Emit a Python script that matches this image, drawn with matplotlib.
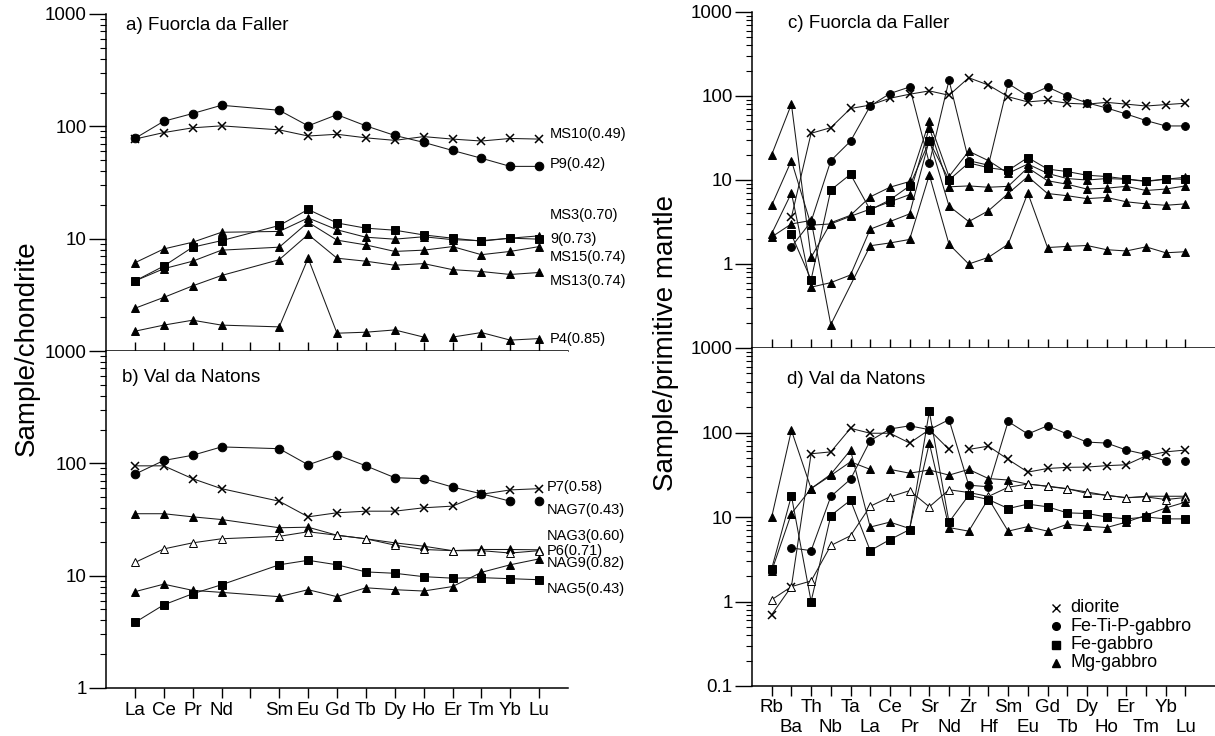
import numpy as np
import matplotlib
matplotlib.use('Agg')
import matplotlib.pyplot as plt
from matplotlib.ticker import FixedLocator, FixedFormatter, LogLocator, NullFormatter

plt.rcParams['font.family'] = ['Liberation Sans', 'DejaVu Sans']

nan = np.nan

# chondrite-normalised REE (Pm has a tick but no data)
ree_axis = ['La', 'Ce', 'Pr', 'Nd', '', 'Sm', 'Eu', 'Gd', 'Tb', 'Dy', 'Ho', 'Er', 'Tm', 'Yb', 'Lu']
ree = ['La', 'Ce', 'Pr', 'Nd', 'Sm', 'Eu', 'Gd', 'Tb', 'Dy', 'Ho', 'Er', 'Tm', 'Yb', 'Lu']

# primitive-mantle normalised spider elements
spider = ['Rb', 'Ba', 'Th', 'Nb', 'Ta', 'La', 'Ce', 'Pr', 'Sr', 'Nd', 'Zr', 'Hf',
          'Sm', 'Eu', 'Gd', 'Tb', 'Dy', 'Ho', 'Er', 'Tm', 'Yb', 'Lu']

# a) Fuorcla da Faller, REE / chondrite
a_MS10 = [77, 88, 97, 101, 93, 82, 85, 79, 75, 81, 77, 74, 78, 77]
a_P9 = [78, 111, 130, 154, 139, 101, 127, 101, 83, 72, 61, 52, 44, 44]
a_MS3 = [4.2, 5.7, 8.4, 9.6, 13.1, 18.2, 13.8, 12.4, 11.9, 10.8, 10.1, 9.5, 10.1, 9.9]
a_9 = [6.1, 8.1, 9.3, 11.4, 11.6, 15.3, 12.0, 10.3, 9.9, 10.4, 9.8, 9.6, 10.1, 10.6]
a_MS15 = [4.2, 5.4, 6.3, 7.9, 8.4, 14.0, 9.7, 8.8, 7.7, 7.9, 8.5, 7.2, 7.7, 8.5]
a_MS13 = [2.4, 3.0, 3.8, 4.7, 6.5, 10.9, 6.7, 6.3, 5.8, 6.0, 5.3, 5.1, 4.8, 5.0]
a_P4 = [1.5, 1.7, 1.88, 1.7, 1.64, 6.7, 1.44, 1.47, 1.54, 1.33, 1.33, 1.46, 1.25, 1.29]

# b) Val da Natons, REE / chondrite
b_P7 = [95, 95, 73, 59.5, 46, 33.4, 36.3, 37.5, 37.5, 40.2, 41.6, 53, 58, 59.5]
b_NAG7 = [80, 106, 118, 140, 135, 97, 119, 95, 74.5, 73, 61.5, 53.6, 46, 46]
b_NAG3 = [35.6, 35.6, 33.4, 31.6, 26.7, 27, 22.9, 21.3, 19.6, 18.3, 16.7, 17.1, 17.1, 17]
b_P6 = [13.1, 17.3, 19.6, 21.3, 22.4, 24.6, 22.9, 21.3, 18.7, 17.1, 16.7, 16.7, 15.9, 16.7]
b_NAG9 = [7.2, 8.4, 7.4, 7.1, 6.5, 7.5, 6.5, 7.8, 7.5, 7.3, 8.0, 10.7, 12.5, 14.1]
b_NAG5 = [3.83, 5.5, 6.9, 8.3, 12.5, 13.7, 12.5, 10.8, 10.5, 9.8, 9.5, 9.6, 9.4, 9.2]

# c) Fuorcla da Faller, trace elements / primitive mantle
c_MS10 = [nan, 3.6, 36, 42, 71, 78, 94, 105, 115, 102, 165, 135, 98, 85, 89, 82, 80, 84, 80, 76, 79, 82]
c_P9 = [nan, 1.6, 3.2, 17, 29, 76, 107, 128, 15.8, 154, 17, 15, 141, 100, 128, 100, 83, 72, 61, 51, 44, 44]
c_MS3 = [nan, 2.25, 0.65, 7.6, 11.7, 4.4, 5.8, 8.5, 29, 10, 16, 14, 13, 18.5, 13.5, 12.6, 11.4, 11, 10.3, 9.7, 10.3, 10.2]
c_9 = [20, 80, 1.2, 3.1, 3.8, 6.3, 8.2, 9.6, 50, 11, 22, 17, 12, 15.5, 12, 10.4, 10, 10.4, 10.2, 9.6, 10.2, 10.8]
c_MS15 = [5, 17, 2.9, 3.0, 3.7, 4.5, 5.5, 6.7, 42, 8.3, 8.5, 8.2, 8.4, 14, 9.8, 8.9, 7.8, 8.0, 8.4, 7.5, 7.8, 8.5]
c_MS13 = [2.3, 7, 0.53, 0.6, 0.74, 2.6, 3.2, 3.95, 30, 4.9, 3.2, 4.3, 6.9, 11, 6.9, 6.5, 6.0, 6.2, 5.5, 5.2, 5.0, 5.2]
c_P4 = [2.1, 3.0, 3.3, 0.19, nan, 1.65, 1.78, 1.96, 11.5, 1.72, 1.0, 1.2, 1.72, 7.0, 1.57, 1.62, 1.66, 1.48, 1.43, 1.6, 1.36, 1.4]

# d) Val da Natons, trace elements / primitive mantle
d_P7 = [0.7, 1.5, 56, 59, 112, 98, 98, 75, 108, 63, 63, 69, 48, 34, 37.5, 38.7, 39, 40.5, 41.5, 53, 59, 62]
d_NAG7 = [nan, 4.3, 4.0, 17.5, 28, 80, 110, 120, 108, 142, 23.8, 22.8, 135, 96, 120, 96, 77, 75, 62, 55, 46, 46]
d_NAG3 = [10, 106, 21.7, 31, 45, 36.6, 36.6, 33, 36, 31.3, 36.6, 28.5, 27.4, 24.5, 23.2, 21.7, 19, 18.1, 16.8, 17.6, 17.6, 17.6]
d_P6 = [1.05, 1.5, 1.75, 4.6, 6.0, 13.4, 17.3, 20.5, 13.2, 21, 19.5, 17.5, 22.5, 24.6, 23, 21.5, 19.8, 18, 17, 17.3, 16.1, 17]
d_NAG9 = [2.3, 11, 21.7, 32, 62, 7.6, 8.7, 7.3, 75, 7.5, 6.8, 16.5, 6.8, 7.7, 6.8, 8.2, 7.8, 7.5, 8.7, 10.5, 12.8, 15]
d_NAG5 = [2.45, 17.8, 1.0, 10.4, 15.8, 4.0, 5.4, 7.1, 178, 8.7, 18.1, 16.1, 12.6, 14.2, 13.2, 11.2, 11, 10, 9.5, 10, 9.5, 9.5]

rock_types = ['diorite', 'Fe-Ti-P-gabbro', 'Fe-gabbro', 'Mg-gabbro']
markers = {'diorite': 'x', 'Fe-Ti-P-gabbro': 'o', 'Fe-gabbro': 's', 'Mg-gabbro': '^', 'open': '^'}

W, H = 1215, 736
TICK_FS = 13.5
fig = plt.figure(figsize=(W / 100, H / 100), dpi=100)


def px_axes(x0, x1, y0, y1):
    return fig.add_axes([x0 / W, 1 - y1 / H, (x1 - x0) / W, (y1 - y0) / H])


def draw(ax, x, vals, kind, ms, breaks=()):
    x = np.asarray(x, float)
    v = np.asarray(vals, float)
    idx = np.flatnonzero(~np.isnan(v))
    runs, run = [], [idx[0]]
    for i in idx[1:]:
        if run[-1] in breaks:
            runs.append(run)
            run = [i]
        else:
            run.append(i)
    runs.append(run)
    for r in runs:
        ax.plot(x[r], v[r], color='0.1', lw=0.75, zorder=2)
    if kind == 'diorite':
        ax.plot(x[idx], v[idx], ls='none', marker='x', ms=ms, mew=1.1, color='k', zorder=3)
    else:
        face = 'white' if kind == 'open' else 'k'
        size = ms * 0.95 if markers[kind] == '^' else ms
        ax.plot(x[idx], v[idx], ls='none', marker=markers[kind], ms=size,
                mfc=face, mec='k', mew=0.7, zorder=3)


def style_log(ax, labels):
    ax.set_yscale('log')
    for s in ('top', 'right'):
        ax.spines[s].set_visible(False)
    for s in ('left', 'bottom'):
        ax.spines[s].set_linewidth(1.1)
    ax.yaxis.set_major_locator(FixedLocator([float(t) for t in labels]))
    ax.yaxis.set_major_formatter(FixedFormatter(labels))
    ax.yaxis.set_minor_locator(LogLocator(base=10, subs=np.arange(2, 10)))
    ax.yaxis.set_minor_formatter(NullFormatter())
    ax.tick_params(axis='y', which='major', direction='out', length=12, width=1.0,
                   labelsize=TICK_FS, pad=2)
    ax.tick_params(axis='y', which='minor', direction='out', length=4, width=0.8)


# ---- left column: REE / chondrite ----
ree_x = [ree_axis.index(e) for e in ree]
ax_a = px_axes(106, 568, 14, 351)
ax_b = px_axes(106, 568, 351, 688)

for ax in (ax_a, ax_b):
    ax.set_xlim(-1, 15)
    ax.set_ylim(1, 1000)
    ax.set_xticks(range(len(ree_axis)))

style_log(ax_a, ['10', '100', '1000'])
style_log(ax_b, ['1', '10', '100', '1000'])
ax_a.set_xticklabels([])
ax_a.tick_params(axis='x', direction='inout', length=13, width=1.0)
ax_b.set_xticklabels(ree_axis, fontsize=TICK_FS)
ax_b.tick_params(axis='x', direction='out', length=7, width=1.0, pad=3)

series_a = [(a_MS10, 'diorite', ()), (a_P9, 'Fe-Ti-P-gabbro', ()), (a_MS3, 'Fe-gabbro', ()),
            (a_9, 'Mg-gabbro', ()), (a_MS15, 'Mg-gabbro', ()), (a_MS13, 'Mg-gabbro', ()),
            (a_P4, 'Mg-gabbro', (9,))]
for vals, kind, br in series_a:
    draw(ax_a, ree_x, vals, kind, 6.2, br)

series_b = [(b_P7, 'diorite', ()), (b_NAG7, 'Fe-Ti-P-gabbro', (12,)), (b_NAG3, 'Mg-gabbro', ()),
            (b_P6, 'open', ()), (b_NAG9, 'Mg-gabbro', ()), (b_NAG5, 'Fe-gabbro', ())]
for vals, kind, br in series_b:
    draw(ax_b, ree_x, vals, kind, 6.2, br)

# sample names with Mg# beside the Lu end of each pattern
names_a = ['MS10(0.49)', 'P9(0.42)', 'MS3(0.70)', '9(0.73)', 'MS15(0.74)', 'MS13(0.74)', 'P4(0.85)']
ypos_a = [86, 46.4, 16.1, 9.9, 6.8, 4.2, 1.27]
for n, y in zip(names_a, ypos_a):
    ax_a.text(14.38, y, n, fontsize=10.5, va='center', ha='left', clip_on=False)

names_b = ['P7(0.58)', 'NAG7(0.43)', 'NAG3(0.60)', 'P6(0.71)', 'NAG9(0.82)', 'NAG5(0.43)']
ypos_b = [62, 38.8, 22.4, 16.5, 13, 7.6]
for n, y in zip(names_b, ypos_b):
    ax_b.text(14.26, y, n, fontsize=10.5, va='center', ha='left', clip_on=False)

# ---- right column: spider diagrams / primitive mantle ----
sp_x = list(range(len(spider)))
ax_c = px_axes(752, 1215, 12, 348)
ax_d = px_axes(752, 1215, 348, 686)

for ax in (ax_c, ax_d):
    ax.set_xlim(-1, 22.5)
    ax.set_ylim(0.1, 1000)
    # element names alternate between two rows: even ones on major ticks, odd ones on minor
    ax.xaxis.set_major_locator(FixedLocator(sp_x[0::2]))
    ax.xaxis.set_minor_locator(FixedLocator(sp_x[1::2]))

style_log(ax_c, ['1', '10', '100', '1000'])
style_log(ax_d, ['0.1', '1', '10', '100', '1000'])
ax_c.xaxis.set_major_formatter(NullFormatter())
ax_c.xaxis.set_minor_formatter(NullFormatter())
ax_c.tick_params(axis='x', which='both', direction='inout', length=13, width=1.0)
ax_d.xaxis.set_major_formatter(FixedFormatter(spider[0::2]))
ax_d.xaxis.set_minor_formatter(FixedFormatter(spider[1::2]))
ax_d.tick_params(axis='x', which='both', direction='out', length=7, width=1.0,
                 labelsize=TICK_FS)
ax_d.tick_params(axis='x', which='major', pad=2)
ax_d.tick_params(axis='x', which='minor', pad=16.5)

series_c = [(c_MS10, 'diorite', ()), (c_P9, 'Fe-Ti-P-gabbro', ()), (c_MS3, 'Fe-gabbro', ()),
            (c_9, 'Mg-gabbro', ()), (c_MS15, 'Mg-gabbro', ()), (c_MS13, 'Mg-gabbro', ()),
            (c_P4, 'Mg-gabbro', ())]
for vals, kind, br in series_c:
    draw(ax_c, sp_x, vals, kind, 5.6, br)

series_d = [(d_P7, 'diorite', (9,)), (d_NAG7, 'Fe-Ti-P-gabbro', (20,)), (d_NAG3, 'Mg-gabbro', (5,)),
            (d_P6, 'open', ()), (d_NAG9, 'Mg-gabbro', ()), (d_NAG5, 'Fe-gabbro', ())]
for vals, kind, br in series_d:
    draw(ax_d, sp_x, vals, kind, 5.6, br)

# legend for rock types
for i, kind in enumerate(rock_types):
    yy = 1 - (608 + 18.3 * i) / H
    if kind == 'diorite':
        fig.lines.append(plt.Line2D([1056 / W], [yy], ls='none', marker='x', ms=6, mew=1.0,
                                    color='k', transform=fig.transFigure))
    else:
        fig.lines.append(plt.Line2D([1056 / W], [yy], ls='none', marker=markers[kind], ms=5.5,
                                    mfc='k', mec='k', transform=fig.transFigure))
    fig.text(1070 / W, yy, kind, fontsize=13, va='center', ha='left')

# panel titles and axis labels
fig.text(126 / W, 1 - 26 / H, 'a) Fuorcla da Faller', fontsize=13.5, va='center')
fig.text(122 / W, 1 - 378 / H, 'b) Val da Natons', fontsize=13.5, va='center')
fig.text(788 / W, 1 - 24 / H, 'c) Fuorcla da Faller', fontsize=13.5, va='center')
fig.text(787 / W, 1 - 379 / H, 'd) Val da Natons', fontsize=13.5, va='center')
fig.text(27 / W, 1 - 348 / H, 'Sample/chondrite', fontsize=20, rotation=90, va='center', ha='center')
fig.text(666 / W, 1 - 343 / H, 'Sample/primitive mantle', fontsize=20, rotation=90,
         va='center', ha='center')

fig.savefig('out.png', dpi=100)
